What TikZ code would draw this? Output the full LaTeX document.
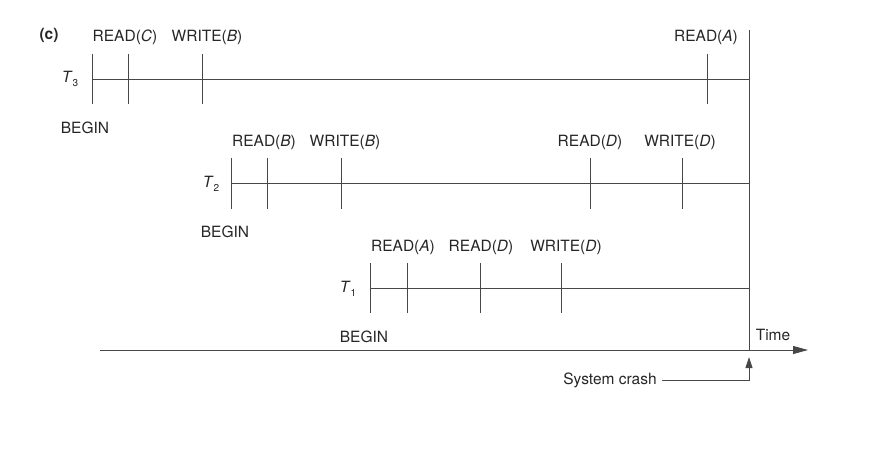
\documentclass[tikz,border=0pt]{standalone}
\usepackage{fontspec}
\setmainfont{TeX Gyre Heros}
\usetikzlibrary{arrows.meta}
\newcommand{\Tsub}[1]{\textit{T}\raisebox{-0.45ex}{\fontsize{10}{10}\selectfont #1}}
\begin{document}
\begin{tikzpicture}[x=1pt,y=-1pt,
  font=\fontsize{15.5}{18}\selectfont,
  ln/.style={draw=black!72, line width=0.9pt},
  lbl/.style={inner sep=0pt, anchor=center, text=black!85}]
\useasboundingbox (0,0) rectangle (896,448);

\node[lbl, font=\fontsize{15.5}{18}\selectfont\bfseries] (c) at (49,35) {(c)};

% crash line
\coordinate (crTop) at (749,30);
\coordinate (crBot) at (749,350);
\draw[ln] (crTop) -- (crBot);

% T3
\coordinate (t3s) at (92,79); \coordinate (t3e) at (749,79);
\draw[ln] (t3s) -- (t3e);
\foreach \x in {92,128,202,707} \draw[ln] (\x,54) -- (\x,104);
\node[lbl] (T3) at (70,79) {\Tsub{3}};
\node[lbl] (b3) at (85,128) {BEGIN};
\node[lbl] (r3c) at (125,37) {READ(\textit{C})};
\node[lbl] (w3b) at (207,37) {WRITE(\textit{B})};
\node[lbl] (r3a) at (706,37) {READ(\textit{A})};

% T2
\coordinate (t2s) at (231,183); \coordinate (t2e) at (749,183);
\draw[ln] (t2s) -- (t2e);
\foreach \x in {231,267,341,590,682} \draw[ln] (\x,158) -- (\x,209);
\node[lbl] (T2) at (211,184) {\Tsub{2}};
\node[lbl] (b2) at (225,232) {BEGIN};
\node[lbl] (r2b) at (264,142) {READ(\textit{B})};
\node[lbl] (w2b) at (345,142) {WRITE(\textit{B})};
\node[lbl] (r2d) at (590,142) {READ(\textit{D})};
\node[lbl] (w2d) at (680,142) {WRITE(\textit{D})};

% T1
\coordinate (t1s) at (370,288); \coordinate (t1e) at (749,288);
\draw[ln] (t1s) -- (t1e);
\foreach \x in {370,407,480,561} \draw[ln] (\x,263) -- (\x,313);
\node[lbl] (T1) at (348,289) {\Tsub{1}};
\node[lbl] (b1) at (364,337) {BEGIN};
\node[lbl] (r1a) at (403,247) {READ(\textit{A})};
\node[lbl] (r1d) at (481,247) {READ(\textit{D})};
\node[lbl] (w1d) at (566,247) {WRITE(\textit{D})};

% time axis
\coordinate (axL) at (100,350); \coordinate (axR) at (808,350);
\draw[ln, -{Triangle[length=15pt,width=8pt]}] (axL) -- (axR);
\node[lbl] (time) at (773,335) {Time};

% system crash
\node[lbl] (crash) at (610,380) {System crash};
\coordinate (crCorner) at (749,380);
\coordinate (crTip) at (749,357);
\draw[ln, -{Triangle[length=11pt,width=7pt]}] ([xshift=5pt]crash.east) -- (crCorner) -- (crTip);
\end{tikzpicture}
\end{document}
